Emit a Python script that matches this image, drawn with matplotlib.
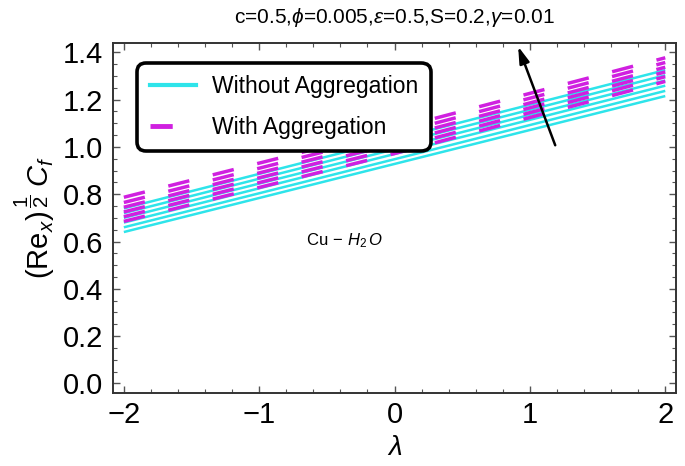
import matplotlib
matplotlib.use("Agg")
import matplotlib.pyplot as plt
import numpy as np
from matplotlib.lines import Line2D
from matplotlib.ticker import MultipleLocator

plt.rcParams['font.family'] = ['Liberation Sans', 'DejaVu Sans']
plt.rcParams['mathtext.fontset'] = 'custom'
plt.rcParams['mathtext.rm'] = 'Liberation Sans'
plt.rcParams['mathtext.it'] = 'Liberation Sans:italic'
plt.rcParams['mathtext.bf'] = 'Liberation Sans:bold'
plt.rcParams['lines.scale_dashes'] = False

# ---- data ----
lam = [-2.0, 0.0, 2.0]
without_agg = [
    [0.640, 0.928, 1.215],
    [0.660, 0.948, 1.237],
    [0.680, 0.970, 1.259],
    [0.700, 0.990, 1.281],
    [0.720, 1.011, 1.303],
    [0.740, 1.032, 1.325],
]
with_agg = [
    [0.685, 0.972, 1.277],
    [0.705, 0.993, 1.297],
    [0.725, 1.014, 1.317],
    [0.745, 1.035, 1.337],
    [0.765, 1.055, 1.357],
    [0.787, 1.076, 1.377],
]
title = r'c=0.5,$\phi$=0.005,$\varepsilon$=0.5,S=0.2,$\gamma$=0.01'
legend_labels = ['Without Aggregation', 'With Aggregation']
x_ticks = [-2, -1, 0, 1, 2]
y_ticks = [0.0, 0.2, 0.4, 0.6, 0.8, 1.0, 1.2, 1.4]

cyan = '#2ee4ea'
magenta = '#d020e0'
dash = (0, (15.6, 17.4))

fig = plt.figure(figsize=(6.85, 4.66), dpi=100)
ax = fig.add_axes([0.165, 0.157, 0.822, 0.751])

for ys in without_agg:
    ax.plot(lam, ys, color=cyan, lw=1.8, solid_capstyle='butt', zorder=2)
for ys in with_agg:
    ax.plot(lam, ys, color=magenta, lw=2.5, linestyle=dash,
            dash_capstyle='butt', zorder=3)

ax.set_xlim(-2.08, 2.08)
ax.set_ylim(-0.04, 1.44)
ax.set_xticks(x_ticks)
ax.set_xticklabels(['\u22122', '\u22121', '0', '1', '2'])
ax.set_yticks(y_ticks)
ax.set_yticklabels([f'{v:.1f}' for v in y_ticks])
ax.xaxis.set_minor_locator(MultipleLocator(0.2))
ax.yaxis.set_minor_locator(MultipleLocator(0.05))
ax.tick_params(which='both', direction='in', top=True, right=True,
               labelsize=21, colors='#555555', labelcolor='black')
ax.tick_params(which='major', length=5, width=1)
ax.tick_params(which='minor', length=3, width=0.8)
ax.tick_params(axis='x', pad=6)
ax.tick_params(axis='y', pad=7)
for s in ax.spines.values():
    s.set_linewidth(1.4)
    s.set_color('#333333')

ax.set_xlabel(r'$\lambda$', fontsize=20, labelpad=4)
ax.set_ylabel(r'$(\mathrm{Re}_x)^{\,\dfrac{1}{2}}\;C_f$', fontsize=21, labelpad=4)
ax.set_title(title, fontsize=15, pad=14)

ax.text(-0.37, 0.605, r'Cu$\,-\,H_2\,O$', fontsize=12, ha='center', va='center')

# arrow
arrow_tail = (1.187, 1.007)
arrow_head = (0.913, 1.425)
ax.annotate('', xy=arrow_head, xytext=arrow_tail,
            arrowprops=dict(arrowstyle='-|>,head_length=1.0,head_width=0.3',
                            color='black', lw=1.8, shrinkA=0, shrinkB=0),
            zorder=5)

handles = [Line2D([], [], color=cyan, lw=3),
           Line2D([], [], color=magenta, lw=3.5, linestyle=(0, (16, 40)))]
leg = ax.legend(handles, legend_labels, loc='upper left',
                bbox_to_anchor=(0.043, 0.943), borderaxespad=0, fontsize=16.5,
                handlelength=2.0, handletextpad=0.7, labelspacing=0.75,
                borderpad=0.55, fancybox=True, framealpha=1,
                edgecolor='black')
leg.get_frame().set_linewidth(2.6)
leg.get_frame().set_boxstyle('round,pad=0.0,rounding_size=0.4')
leg.set_zorder(4)

fig.savefig('out.png', dpi=100)
